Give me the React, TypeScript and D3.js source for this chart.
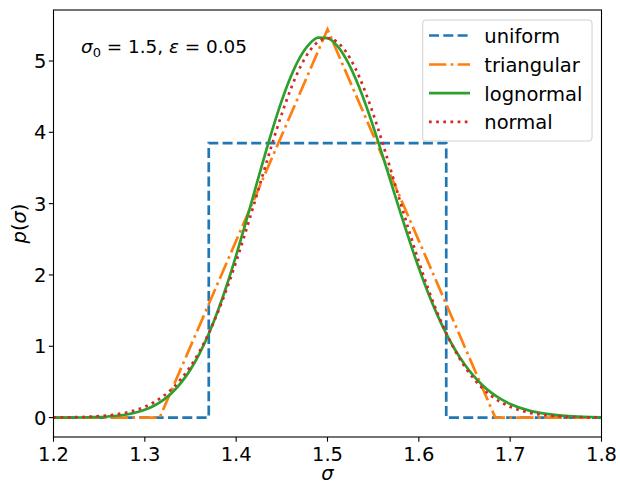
import React from "react";
import * as d3 from "d3";

// ---- Data ----
const sigmaGrid = [
  1.2, 1.22, 1.24, 1.26, 1.28, 1.3, 1.31, 1.32, 1.33, 1.34, 1.35, 1.36, 1.37, 1.38, 1.39, 1.4,
  1.41, 1.42, 1.43, 1.44, 1.45, 1.46, 1.47, 1.48, 1.49, 1.5, 1.51, 1.52, 1.53, 1.54, 1.55, 1.56,
  1.57, 1.58, 1.59, 1.6, 1.61, 1.62, 1.63, 1.64, 1.65, 1.66, 1.67, 1.68, 1.69, 1.7, 1.72, 1.74,
  1.76, 1.78, 1.8,
];
const lognormalValues = [
  0.0004, 0.0014, 0.005, 0.0157, 0.0438, 0.1092, 0.1655, 0.2443, 0.3515, 0.493, 0.6749, 0.9015,
  1.1758, 1.4984, 1.8668, 2.2749, 2.7123, 3.1654, 3.6182, 4.0518, 4.4475, 4.7869, 5.0541, 5.2366,
  5.3266, 5.3209, 5.2217, 5.0362, 4.775, 4.4525, 4.0842, 3.6869, 3.2761, 2.8663, 2.4703, 2.0975,
  1.7552, 1.4479, 1.1777, 0.945, 0.7479, 0.5843, 0.4505, 0.3429, 0.2579, 0.1914, 0.1018, 0.0517,
  0.0251, 0.0117, 0.0052,
];
const normalValues = [
  0.0018, 0.005, 0.0131, 0.0318, 0.072, 0.152, 0.2149, 0.2986, 0.4076, 0.5466, 0.7199, 0.9316,
  1.1842, 1.4789, 1.8144, 2.1868, 2.5891, 3.0115, 3.4411, 3.8625, 4.2593, 4.614, 4.9103, 5.1334,
  5.2721, 5.3192, 5.2721, 5.1334, 4.9103, 4.614, 4.2593, 3.8625, 3.4411, 3.0115, 2.5891, 2.1868,
  1.8144, 1.4789, 1.1842, 0.9316, 0.7199, 0.5466, 0.4076, 0.2986, 0.2149, 0.152, 0.072, 0.0318,
  0.0131, 0.005, 0.0018,
];
const uniformX = [1.2, 1.37, 1.37, 1.63, 1.63, 1.8];
const uniformY = [0, 0, 3.849, 3.849, 0, 0];
const triangularX = [1.2, 1.3163, 1.5, 1.6837, 1.8];
const triangularY = [0, 0, 5.443, 0, 0];

const xTicks = [1.2, 1.3, 1.4, 1.5, 1.6, 1.7, 1.8];
const yTicks = [0, 1, 2, 3, 4, 5];
const seriesNames = ["uniform", "triangular", "lognormal", "normal"];
const seriesColors = ["#1f77b4", "#ff7f0e", "#2ca02c", "#d62728"];

const W = 620;
const H = 483;
const LW = 2.7;
const dashes = [
  `${3.7 * LW},${1.6 * LW}`,
  `${6.4 * LW},${1.6 * LW},${1 * LW},${1.6 * LW}`,
  "",
  `${1 * LW},${1.65 * LW}`,
];
const FONT = "DejaVu Sans, sans-serif";
const FS = 19.5;

export default function App() {
  const left = 53.5, right = 601.5, top = 10, bottom = 437;
  const x = d3.scaleLinear().domain([1.2, 1.8]).range([left, right]);
  const y = d3.scaleLinear().domain([-0.272, 5.715]).range([bottom, top]);

  const line = d3
    .line<[number, number]>()
    .x((d) => x(d[0]))
    .y((d) => y(d[1]));
  const smooth = d3
    .line<[number, number]>()
    .x((d) => x(d[0]))
    .y((d) => y(d[1]))
    .curve(d3.curveMonotoneX);

  const zip = (a: number[], b: number[]) => a.map((v, i) => [v, b[i]] as [number, number]);

  const paths = [
    line(zip(uniformX, uniformY)),
    line(zip(triangularX, triangularY)),
    smooth(zip(sigmaGrid, lognormalValues)),
    smooth(zip(sigmaGrid, normalValues)),
  ];

  const legendBaselines = [43, 72, 100.7, 129.4];

  return (
    <svg
      width={W}
      height={H}
      style={{ position: "absolute", left: 0, top: 0, background: "#fff" }}
      fontFamily={FONT}
    >
      <rect x={0} y={0} width={W} height={H} fill="#fff" />
      <defs>
        <clipPath id="plotclip">
          <rect x={left} y={top} width={right - left} height={bottom - top} />
        </clipPath>
      </defs>
      <g clipPath="url(#plotclip)">
        {paths.map((p, i) => (
          <path
            key={i}
            d={p || ""}
            fill="none"
            stroke={seriesColors[i]}
            strokeWidth={LW}
            strokeDasharray={dashes[i] || undefined}
            strokeLinecap={i === 2 ? "square" : "butt"}
          />
        ))}
      </g>
      {/* spines */}
      <rect x={left} y={top} width={right - left} height={bottom - top} fill="none" stroke="#000" strokeWidth={1.1} />
      {/* x ticks */}
      {xTicks.map((t) => (
        <g key={"x" + t}>
          <line x1={x(t)} x2={x(t)} y1={bottom} y2={bottom + 4.7} stroke="#000" strokeWidth={1.1} />
          <text x={x(t)} y={460.5} textAnchor="middle" fontSize={FS} fill="#000">
            {t.toFixed(1)}
          </text>
        </g>
      ))}
      {/* y ticks */}
      {yTicks.map((t) => (
        <g key={"y" + t}>
          <line x1={left - 4.7} x2={left} y1={y(t)} y2={y(t)} stroke="#000" strokeWidth={1.1} />
          <text x={46.4} y={y(t) + 7} textAnchor="end" fontSize={FS} fill="#000">
            {t}
          </text>
        </g>
      ))}
      {/* axis labels */}
      <text x={(left + right) / 2} y={479.5} textAnchor="middle" fontSize={FS} fontStyle="italic" fill="#000">
        σ
      </text>
      <text
        transform={`translate(26, ${(top + bottom) / 2}) rotate(-90)`}
        textAnchor="middle"
        fontSize={FS}
        fill="#000"
      >
        <tspan fontStyle="italic">p</tspan>
        <tspan>(</tspan>
        <tspan fontStyle="italic">σ</tspan>
        <tspan>)</tspan>
      </text>
      {/* annotation */}
      <text x={81} y={53} fontSize={18.4} fill="#000">
        <tspan fontStyle="italic">σ</tspan>
        <tspan fontSize={13} dy={3.6}>0</tspan>
        <tspan dy={-3.6}> = 1.5, </tspan>
        <tspan fontStyle="italic">ε</tspan>
        <tspan> = 0.05</tspan>
      </text>
      {/* legend */}
      <rect x={422.7} y={20} width={169.3} height={121} rx={3} fill="#fff" fillOpacity={0.8} stroke="#d0d0d0" strokeWidth={1} />
      {seriesNames.map((n, i) => (
        <g key={n}>
          <line
            x1={429}
            x2={470}
            y1={legendBaselines[i] - 7.5}
            y2={legendBaselines[i] - 7.5}
            stroke={seriesColors[i]}
            strokeWidth={LW}
            strokeDasharray={dashes[i] || undefined}
          />
          <text x={484.3} y={legendBaselines[i]} fontSize={FS} fill="#000">
            {n}
          </text>
        </g>
      ))}
    </svg>
  );
}
